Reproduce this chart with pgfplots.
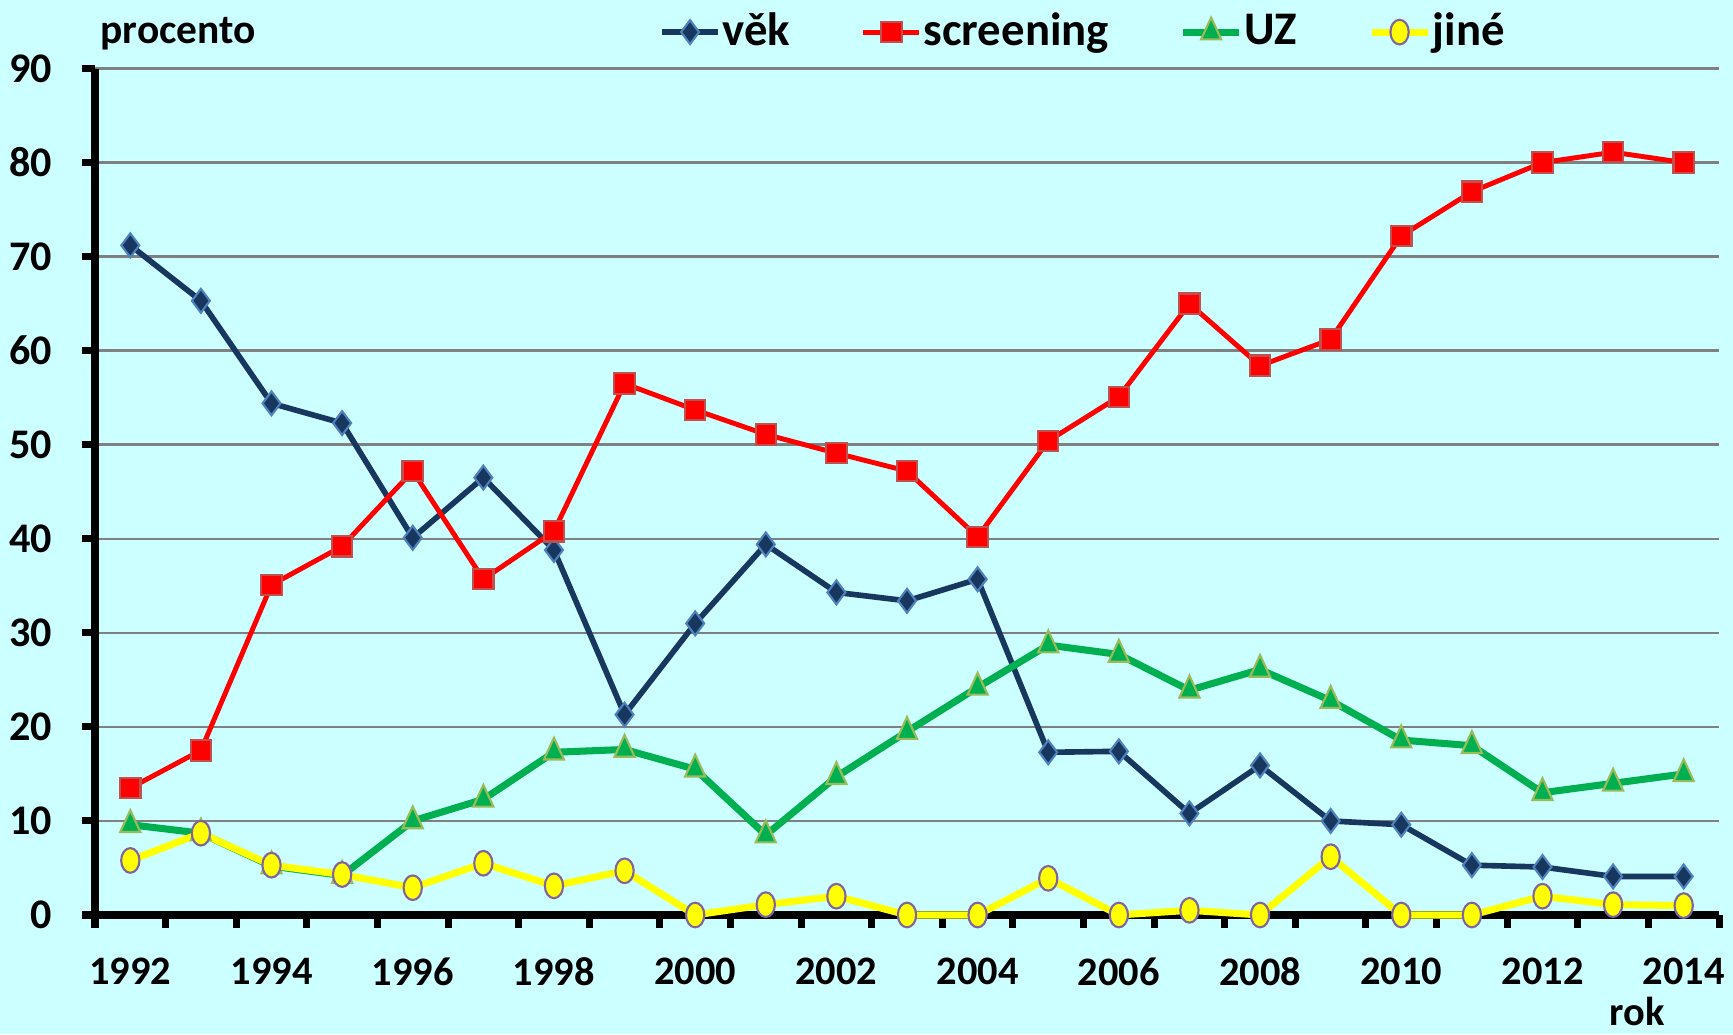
\documentclass[border=0pt]{standalone}
\usepackage{pgfplots}
\pgfplotsset{compat=1.18}
\usepackage{fontspec}
\setmainfont{Carlito}
\definecolor{bg}{HTML}{CCFFFF}
\definecolor{navyc}{HTML}{17375E}
\definecolor{navyedge}{HTML}{4F81BD}
\definecolor{redc}{HTML}{FF0000}
\definecolor{rededge}{HTML}{C0504D}
\definecolor{greenc}{HTML}{00B050}
\definecolor{greenedge}{HTML}{9BBB59}
\definecolor{yellowc}{HTML}{FFFF00}
\definecolor{purpleedge}{HTML}{8064A2}
\definecolor{gridc}{HTML}{808080}
\begin{document}
\begin{tikzpicture}
\fill[bg] (-0.95cm,-1.19cm) rectangle (16.38cm,9.15cm);
\begin{axis}[
  at={(0,0)}, anchor=south west,
  scale only axis, width=16.24cm, height=8.465cm,
  xmin=1991.5, xmax=2014.5, ymin=0, ymax=90,
  axis lines=left,
  axis line style={-, line width=2.3pt, black},
  xtick={1991.5,1992.5,1993.5,1994.5,1995.5,1996.5,1997.5,1998.5,1999.5,2000.5,2001.5,2002.5,2003.5,2004.5,2005.5,2006.5,2007.5,2008.5,2009.5,2010.5,2011.5,2012.5,2013.5,2014.5},
  xticklabels={},
  extra x ticks={1992,1994,1996,1998,2000,2002,2004,2006,2008,2010,2012,2014},
  extra x tick labels={1992,1994,1996,1998,2000,2002,2004,2006,2008,2010,2012,2014},
  extra x tick style={major tick length=0pt, grid=none},
  ytick={0,10,...,90},
  ymajorgrids,
  grid style={gridc, line width=0.7pt},
  tick align=outside,
  major tick length=1.3mm,
  tick style={line width=2pt, black},
  yticklabel style={font=\fontsize{12}{14}\selectfont\bfseries, anchor=east, inner sep=0pt, xshift=-2.9mm},
  xticklabel style={font=\fontsize{11.5}{13}\selectfont\bfseries, anchor=north, inner sep=0pt, yshift=-4.2mm},
  /pgf/number format/assume math mode=true,
  clip=false,
  legend columns=4,
  legend style={at={(0.347,1.043)}, anchor=west, draw=none, fill=none, inner sep=0pt,
    font=\fontsize{13.3}{15}\selectfont\bfseries,
    /tikz/every even column/.append style={column sep=6.9mm},
    nodes={inner sep=0.5pt}},
  legend cell align=left,
  legend image code/.code={\draw[mark repeat=2,mark phase=2] plot coordinates {(0cm,0cm) (0.28cm,0cm) (0.56cm,0cm)};},
]
\addplot[navyc, line width=1.6pt, mark=diamond*, mark size=3.4pt, mark options={fill=navyc, draw=navyedge, line width=0.6pt}] coordinates {
(1992,71.2) (1993,65.3) (1994,54.4) (1995,52.3) (1996,40.1) (1997,46.5) (1998,38.8) (1999,21.3) (2000,31.0) (2001,39.4) (2002,34.3) (2003,33.4) (2004,35.7) (2005,17.3) (2006,17.4) (2007,10.8) (2008,15.9) (2009,10.0) (2010,9.6) (2011,5.3) (2012,5.1) (2013,4.1) (2014,4.1)};
\addlegendentry{věk}
\addplot[redc, line width=1.4pt, mark=square*, mark size=2.9pt, mark options={fill=redc, draw=rededge, line width=0.6pt}] coordinates {
(1992,13.5) (1993,17.5) (1994,35.1) (1995,39.2) (1996,47.2) (1997,35.7) (1998,40.8) (1999,56.5) (2000,53.7) (2001,51.1) (2002,49.1) (2003,47.2) (2004,40.2) (2005,50.4) (2006,55.1) (2007,65.0) (2008,58.4) (2009,61.2) (2010,72.2) (2011,76.9) (2012,80.0) (2013,81.1) (2014,80.0)};
\addlegendentry{screening}
\addplot[greenc, line width=2pt, mark=triangle*, mark size=3.3pt, mark options={fill=greenc, draw=greenedge, line width=0.6pt, yscale=1.25}] coordinates {
(1992,9.6) (1993,8.7) (1994,5.2) (1995,4.2) (1996,10.0) (1997,12.3) (1998,17.3) (1999,17.6) (2000,15.5) (2001,8.5) (2002,14.7) (2003,19.5) (2004,24.2) (2005,28.7) (2006,27.7) (2007,23.9) (2008,26.1) (2009,22.8) (2010,18.6) (2011,18.0) (2012,13.0) (2013,14.0) (2014,15.0)};
\addlegendentry{UZ}
\addplot[yellowc, line width=2pt, mark=*, mark size=2.6pt, mark options={fill=yellowc, draw=purpleedge, line width=0.6pt, yscale=1.35}] coordinates {
(1992,5.8) (1993,8.7) (1994,5.3) (1995,4.3) (1996,2.9) (1997,5.5) (1998,3.1) (1999,4.7) (2000,0) (2001,1.1) (2002,2.0) (2003,0) (2004,0) (2005,3.9) (2006,0) (2007,0.5) (2008,0) (2009,6.2) (2010,0) (2011,0) (2012,2.0) (2013,1.1) (2014,1.0)};
\addlegendentry{jiné}
\node[anchor=base west, font=\fontsize{11.8}{13}\selectfont\bfseries, inner sep=0pt] at (axis description cs:0.003,1.029) {procento};
\node[anchor=base, font=\fontsize{11.5}{13}\selectfont\bfseries, inner sep=0pt] at (axis description cs:0.9495,-0.13) {rok};
\end{axis}
\end{tikzpicture}
\end{document}
